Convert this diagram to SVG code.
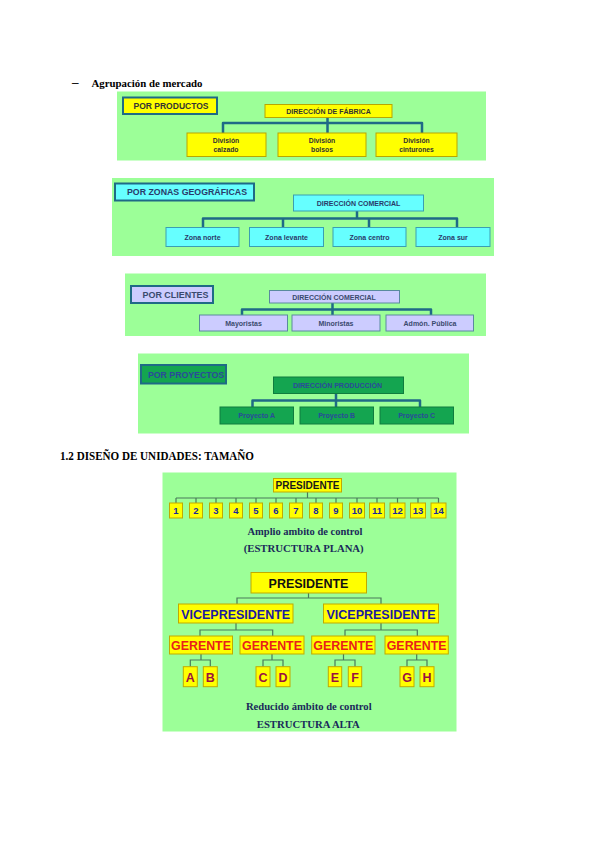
<svg xmlns="http://www.w3.org/2000/svg" width="600" height="848" viewBox="0 0 600 848">
<style>
.bg{fill:#fff}
.panel{fill:#9cff98}
.serif{font-family:"Liberation Serif","Times New Roman",serif;font-weight:bold}
.sans{font-family:"Liberation Sans",Arial,sans-serif;font-weight:bold;text-anchor:middle}
.title{stroke:#1f6a86;stroke-width:2}
.yel{fill:#ffff00;stroke:#b9a600;stroke-width:1}
.cy{fill:#66ffff;stroke:#3a9fb2;stroke-width:1}
.lav{fill:#ccccff;stroke:#5a8a9e;stroke-width:1}
.grn{fill:#14a550;stroke:#0f7d3e;stroke-width:1}
.t1{fill:#333333}
.t2{fill:#2a3a6a}
.t3{fill:#3a4a6e}
.t4{fill:#2a4a9a}
.conn{fill:none;stroke:#1f6a86;stroke-width:2.5;stroke-linejoin:round}
.conn2{fill:none;stroke:#4a7a5a;stroke-width:1.2}
.ybox{fill:#ffff00;stroke:#c0aa00;stroke-width:1}
.cap{fill:#1a2a5a;text-anchor:middle}
.num{fill:#1a2a9a;font-size:9.5px}
.vp{fill:#1a1aa0;font-size:12.5px}
.ger{fill:#e8201a;font-size:12.4px}
.let{fill:#9a1040;font-size:12.5px}
</style>
<rect class="bg" x="0" y="0" width="600" height="848"/>

<text class="serif" x="72" y="86" font-size="13" fill="#000">–</text>
<text class="serif" x="91.5" y="86.5" font-size="11" fill="#000" textLength="111" lengthAdjust="spacingAndGlyphs">Agrupación de mercado</text>

<!-- Panel 1 -->
<g id="panel1">
<rect class="panel" x="117" y="91.5" width="369" height="69"/>
</g>
<g id="p1-connectors">
<path class="conn" d="M327.5 117.5 V123 M223 133 V123 H422 V133 M327.5 123 V133"/>
</g>
<g id="p1-title"><rect class="title" x="123" y="97.5" width="94" height="16.5" fill="#ffff00"/><text class="sans t1" x="171" y="109" font-size="8.5" textLength="75" lengthAdjust="spacingAndGlyphs">POR PRODUCTOS</text></g>
<g id="p1-dir"><rect class="yel" x="265" y="104.5" width="127" height="13"/><text class="sans t1" x="328.5" y="114" font-size="7">DIRECCIÓN DE FÁBRICA</text></g>
<g id="p1-c1"><rect class="yel" x="187" y="133" width="79" height="23.5"/><text class="sans t1" x="226" y="142.5" font-size="6.8">División</text><text class="sans t1" x="226" y="151.5" font-size="6.8">calzado</text></g>
<g id="p1-c2"><rect class="yel" x="278" y="133" width="88" height="23.5"/><text class="sans t1" x="322" y="142.5" font-size="6.8">División</text><text class="sans t1" x="322" y="151.5" font-size="6.8">bolsos</text></g>
<g id="p1-c3"><rect class="yel" x="376" y="133" width="81" height="23.5"/><text class="sans t1" x="416.5" y="142.5" font-size="6.8">División</text><text class="sans t1" x="416.5" y="151.5" font-size="6.8">cinturones</text></g>

<!-- Panel 2 -->
<g id="panel2"><rect class="panel" x="112" y="178" width="382" height="78"/></g>
<g id="p2-connectors">
<path class="conn" d="M357 211 V218.5 M203 227.5 V218.5 H457 V227.5 M283 218.5 V227.5 M369 218.5 V227.5"/>
</g>
<g id="p2-title"><rect class="title" x="115" y="183.5" width="139" height="17" fill="#66ffff"/><text class="sans t2" x="187" y="195" font-size="8.5" textLength="120" lengthAdjust="spacingAndGlyphs">POR ZONAS GEOGRÁFICAS</text></g>
<g id="p2-dir"><rect class="cy" x="293.5" y="195" width="130" height="16"/><text class="sans t2" x="358.5" y="206" font-size="7">DIRECCIÓN COMERCIAL</text></g>
<g id="p2-c1"><rect class="cy" x="166" y="227.5" width="73" height="19"/><text class="sans t2" x="202.5" y="240" font-size="7">Zona norte</text></g>
<g id="p2-c2"><rect class="cy" x="249.5" y="227.5" width="74" height="19"/><text class="sans t2" x="286.5" y="240" font-size="7">Zona levante</text></g>
<g id="p2-c3"><rect class="cy" x="333" y="227.5" width="73" height="19"/><text class="sans t2" x="369.5" y="240" font-size="7">Zona centro</text></g>
<g id="p2-c4"><rect class="cy" x="416" y="227.5" width="74" height="19"/><text class="sans t2" x="453" y="240" font-size="7">Zona sur</text></g>

<!-- Panel 3 -->
<g id="panel3"><rect class="panel" x="125" y="273.5" width="361" height="62.5"/></g>
<g id="p3-connectors">
<path class="conn" d="M332.5 303 V309.5 M242 315 V309.5 H431 V315 M332.5 309.5 V315"/>
</g>
<g id="p3-title"><rect class="title" x="131" y="286" width="82" height="17" fill="#ccccff"/><text class="sans t3" x="175.5" y="297.5" font-size="8.5" textLength="66" lengthAdjust="spacingAndGlyphs">POR CLIENTES</text></g>
<g id="p3-dir"><rect class="lav" x="269.5" y="290.5" width="130" height="12.5"/><text class="sans t3" x="334" y="299.5" font-size="7">DIRECCIÓN COMERCIAL</text></g>
<g id="p3-c1"><rect class="lav" x="199.5" y="315" width="88" height="16"/><text class="sans t3" x="243.5" y="325.5" font-size="7">Mayoristas</text></g>
<g id="p3-c2"><rect class="lav" x="292" y="315" width="88" height="16"/><text class="sans t3" x="336" y="325.5" font-size="7">Minoristas</text></g>
<g id="p3-c3"><rect class="lav" x="386" y="315" width="87.5" height="16"/><text class="sans t3" x="430" y="325.5" font-size="7">Admón. Pública</text></g>

<!-- Panel 4 -->
<g id="panel4"><rect class="panel" x="138" y="353.5" width="331" height="80"/></g>
<g id="p4-connectors">
<path class="conn" d="M336 393.5 V400.5 M252.5 407 V400.5 H420 V407 M336 400.5 V407"/>
</g>
<g id="p4-title"><rect class="title" x="141" y="365" width="85" height="18.5" fill="#14a550"/><text class="sans t4" x="186" y="377.5" font-size="8.5" textLength="76" lengthAdjust="spacingAndGlyphs">POR PROYECTOS</text></g>
<g id="p4-dir"><rect class="grn" x="273.5" y="377" width="130" height="16.5"/><text class="sans t4" x="337.5" y="388" font-size="7">DIRECCIÓN PRODUCCIÓN</text></g>
<g id="p4-c1"><rect class="grn" x="220" y="407" width="73.5" height="17"/><text class="sans t4" x="256.7" y="418" font-size="7">Proyecto A</text></g>
<g id="p4-c2"><rect class="grn" x="300" y="407" width="73.5" height="17"/><text class="sans t4" x="336.7" y="418" font-size="7">Proyecto B</text></g>
<g id="p4-c3"><rect class="grn" x="380" y="407" width="73.5" height="17"/><text class="sans t4" x="416.7" y="418" font-size="7">Proyecto C</text></g>

<text class="serif" x="60" y="460" font-size="12" fill="#000" textLength="194" lengthAdjust="spacingAndGlyphs">1.2 DISEÑO DE UNIDADES: TAMAÑO</text>

<!-- Bottom panel -->
<g id="panel5"><rect class="panel" x="162.5" y="472.5" width="294" height="259"/></g>
<g id="flat-connectors">
<path class="conn2" d="M307.5 492 V498 M176 498 H438.5 M176 498 V503 M196 498 V503 M216 498 V503 M236 498 V503 M256 498 V503 M276 498 V503 M296 498 V503 M316 498 V503 M336 498 V503 M357 498 V503 M377 498 V503 M397.5 498 V503 M418 498 V503 M438.5 498 V503"/>
</g>
<g id="pres1"><rect class="ybox" x="273.5" y="478.5" width="68" height="13.5"/><text class="sans" x="307.5" y="489" font-size="10" fill="#1a1a1a">PRESIDENTE</text></g>
<g id="n1"><rect class="ybox" x="169.5" y="503" width="13" height="15"/><text class="sans num" x="176" y="514">1</text></g>
<g id="n2"><rect class="ybox" x="189.5" y="503" width="13" height="15"/><text class="sans num" x="196" y="514">2</text></g>
<g id="n3"><rect class="ybox" x="209.5" y="503" width="13" height="15"/><text class="sans num" x="216" y="514">3</text></g>
<g id="n4"><rect class="ybox" x="229.5" y="503" width="13" height="15"/><text class="sans num" x="236" y="514">4</text></g>
<g id="n5"><rect class="ybox" x="249.5" y="503" width="13" height="15"/><text class="sans num" x="256" y="514">5</text></g>
<g id="n6"><rect class="ybox" x="269.5" y="503" width="13" height="15"/><text class="sans num" x="276" y="514">6</text></g>
<g id="n7"><rect class="ybox" x="289.5" y="503" width="13" height="15"/><text class="sans num" x="296" y="514">7</text></g>
<g id="n8"><rect class="ybox" x="309.5" y="503" width="13" height="15"/><text class="sans num" x="316" y="514">8</text></g>
<g id="n9"><rect class="ybox" x="329.5" y="503" width="13" height="15"/><text class="sans num" x="336" y="514">9</text></g>
<g id="n10"><rect class="ybox" x="349.5" y="503" width="15" height="15"/><text class="sans num" x="357" y="514">10</text></g>
<g id="n11"><rect class="ybox" x="369.5" y="503" width="15" height="15"/><text class="sans num" x="377" y="514">11</text></g>
<g id="n12"><rect class="ybox" x="390" y="503" width="15" height="15"/><text class="sans num" x="397.5" y="514">12</text></g>
<g id="n13"><rect class="ybox" x="410.5" y="503" width="15" height="15"/><text class="sans num" x="418" y="514">13</text></g>
<g id="n14"><rect class="ybox" x="431" y="503" width="15" height="15"/><text class="sans num" x="438.5" y="514">14</text></g>
<text class="serif cap" x="305" y="534.5" font-size="10.5" textLength="115" lengthAdjust="spacingAndGlyphs">Amplio ambito de control</text>
<text class="serif cap" x="303.7" y="551.5" font-size="10.5" textLength="120" lengthAdjust="spacingAndGlyphs">(ESTRUCTURA PLANA)</text>

<g id="tall-connectors">
<path class="conn2" d="M308.5 593 V598 M237 604 V598 H381 V604 M236 623 V630 M200 636 V630 H272.7 V636 M381 623 V630 M345 636 V630 H417.3 V636 M201 654 V660 M190.3 666.7 V660 H210.3 V666.7 M272 654 V660 M263 666.7 V660 H283 V666.7 M343.5 654 V660 M335 666.7 V660 H355 V666.7 M416.7 654 V660 M407 666.7 V660 H427 V666.7"/>
</g>
<g id="pres2"><rect class="ybox" x="251" y="572.5" width="115.5" height="20.5"/><text class="sans" x="308.5" y="588" font-size="12.5" fill="#111">PRESIDENTE</text></g>
<g id="vp1"><rect class="ybox" x="178.5" y="604" width="114.5" height="19"/><text class="sans vp" x="235.7" y="618.5">VICEPRESIDENTE</text></g>
<g id="vp2"><rect class="ybox" x="323.5" y="604" width="115" height="19"/><text class="sans vp" x="381" y="618.5">VICEPRESIDENTE</text></g>
<g id="g1"><rect class="ybox" x="169.5" y="636" width="63" height="18"/><text class="sans ger" x="201" y="649.5">GERENTE</text></g>
<g id="g2"><rect class="ybox" x="240" y="636" width="64" height="18"/><text class="sans ger" x="272" y="649.5">GERENTE</text></g>
<g id="g3"><rect class="ybox" x="311.7" y="636" width="63.3" height="18"/><text class="sans ger" x="343.3" y="649.5">GERENTE</text></g>
<g id="g4"><rect class="ybox" x="385" y="636" width="63.3" height="18"/><text class="sans ger" x="416.7" y="649.5">GERENTE</text></g>
<g id="la"><rect class="ybox" x="183.3" y="666.7" width="14" height="20"/><text class="sans let" x="190.3" y="681.5">A</text></g>
<g id="lb"><rect class="ybox" x="203.3" y="666.7" width="14" height="20"/><text class="sans let" x="210.3" y="681.5">B</text></g>
<g id="lc"><rect class="ybox" x="256" y="666.7" width="14" height="20"/><text class="sans let" x="263" y="681.5">C</text></g>
<g id="ld"><rect class="ybox" x="276" y="666.7" width="14" height="20"/><text class="sans let" x="283" y="681.5">D</text></g>
<g id="le"><rect class="ybox" x="328.3" y="666.7" width="13.4" height="20"/><text class="sans let" x="335" y="681.5">E</text></g>
<g id="lf"><rect class="ybox" x="348.3" y="666.7" width="13.4" height="20"/><text class="sans let" x="355" y="681.5">F</text></g>
<g id="lg"><rect class="ybox" x="400" y="666.7" width="14" height="20"/><text class="sans let" x="407" y="681.5">G</text></g>
<g id="lh"><rect class="ybox" x="420" y="666.7" width="14" height="20"/><text class="sans let" x="427" y="681.5">H</text></g>
<text class="serif cap" x="308.8" y="710" font-size="10.5" textLength="125.7" lengthAdjust="spacingAndGlyphs">Reducido ámbito de control</text>
<text class="serif cap" x="308.3" y="728" font-size="10.5" textLength="103" lengthAdjust="spacingAndGlyphs">ESTRUCTURA ALTA</text>
</svg>
